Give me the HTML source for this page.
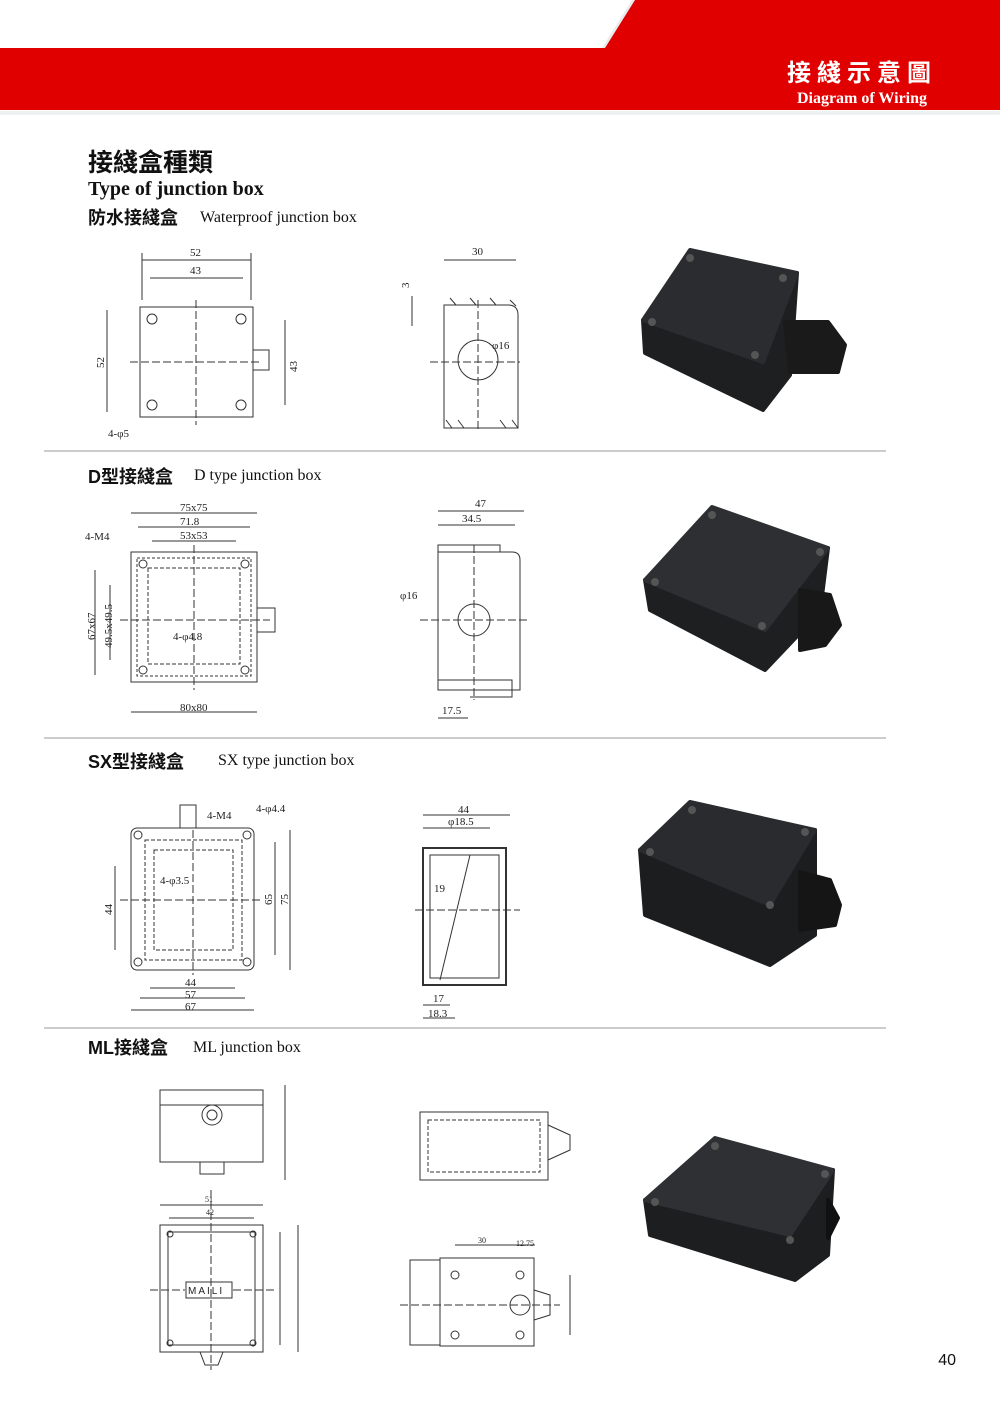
<!DOCTYPE html>
<html><head><meta charset="utf-8"><style>
html,body{margin:0;padding:0;background:#fff}
svg{display:block}
.t{font-family:"Liberation Serif","Noto Serif CJK SC",serif}
.s{font-family:"Liberation Sans","Noto Sans CJK SC",sans-serif}
</style></head><body>
<svg width="1000" height="1414" viewBox="0 0 1000 1414" xmlns="http://www.w3.org/2000/svg">
<rect width="1000" height="1414" fill="#fff"/>
<polygon points="602,48 632,0 640,0 610,48" fill="#e6ecee"/>
<polygon points="635,0 1000,0 1000,110 0,110 0,48 605,48" fill="#e10000"/>
<rect x="0" y="111" width="1000" height="4" fill="#eef1f2"/>
<text x="862" y="81" text-anchor="middle" class="s" font-size="24" font-weight="bold" fill="#fff" letter-spacing="6">接綫示意圖</text>
<text x="862" y="103" text-anchor="middle" class="t" font-size="16" font-weight="bold" fill="#fff">Diagram of Wiring</text>

<text x="88" y="171" class="s" font-size="25" font-weight="bold" fill="#111">接綫盒種類</text>
<text x="88" y="195" class="t" font-size="20" font-weight="bold" fill="#111">Type of junction box</text>
<text x="88" y="224" class="s" font-size="18" font-weight="bold" fill="#111">防水接綫盒</text>
<text x="200" y="222" class="t" font-size="16" fill="#111">Waterproof junction box</text>
<text x="88" y="483" class="s" font-size="18" font-weight="bold" fill="#111">D型接綫盒</text>
<text x="194" y="480" class="t" font-size="16" fill="#111">D type junction box</text>
<text x="88" y="768" class="s" font-size="18" font-weight="bold" fill="#111">SX型接綫盒</text>
<text x="218" y="765" class="t" font-size="16" fill="#111">SX type junction box</text>
<text x="88" y="1054" class="s" font-size="18" font-weight="bold" fill="#111">ML接綫盒</text>
<text x="193" y="1052" class="t" font-size="16" fill="#111">ML junction box</text>

<g stroke="#999" stroke-width="1"><line x1="44" y1="451" x2="886" y2="451"/><line x1="44" y1="738" x2="886" y2="738"/><line x1="44" y1="1028" x2="886" y2="1028"/></g>

<g fill="none" stroke="#333" stroke-width="1">
<rect x="140" y="307" width="113" height="110"/>
<circle cx="152" cy="319" r="5"/><circle cx="241" cy="319" r="5"/><circle cx="152" cy="405" r="5"/><circle cx="241" cy="405" r="5"/>
<line x1="142" y1="253" x2="142" y2="300"/><line x1="251" y1="253" x2="251" y2="300"/><line x1="142" y1="260" x2="251" y2="260"/>
<line x1="150" y1="278" x2="243" y2="278"/>
<line x1="107" y1="310" x2="107" y2="412"/><line x1="285" y1="320" x2="285" y2="405"/>
<rect x="253" y="350" width="16" height="20"/>
<line x1="130" y1="362" x2="260" y2="362" stroke-dasharray="8,3"/>
<line x1="196" y1="300" x2="196" y2="425" stroke-dasharray="8,3"/>
<path d="M444 305 H508 Q518 305 518 315 V428 H444 Z"/>
<path d="M446 420 L452 428 M458 420 L464 428 M500 420 L506 428 M512 420 L518 428 M450 298 L456 305 M470 298 L476 305 M490 298 L496 305 M510 300 L516 306"/>
<circle cx="478" cy="360" r="20"/><line x1="430" y1="362" x2="520" y2="362" stroke-dasharray="8,3"/><line x1="478" y1="300" x2="478" y2="430" stroke-dasharray="8,3"/>
<line x1="444" y1="260" x2="516" y2="260"/><line x1="412" y1="296" x2="412" y2="326"/>
<rect x="131" y="552" width="126" height="130"/><rect x="137" y="558" width="114" height="118" stroke-dasharray="3,2"/>
<rect x="148" y="568" width="92" height="96" stroke-dasharray="4,2"/>
<circle cx="143" cy="564" r="4"/><circle cx="245" cy="564" r="4"/><circle cx="143" cy="670" r="4"/><circle cx="245" cy="670" r="4"/>
<line x1="131" y1="513" x2="257" y2="513"/><line x1="138" y1="527" x2="250" y2="527"/><line x1="152" y1="541" x2="236" y2="541"/>
<line x1="131" y1="712" x2="257" y2="712"/><line x1="95" y1="570" x2="95" y2="675"/><line x1="110" y1="585" x2="110" y2="660"/>
<rect x="257" y="608" width="18" height="24"/><line x1="120" y1="620" x2="270" y2="620" stroke-dasharray="8,3"/><line x1="194" y1="545" x2="194" y2="690" stroke-dasharray="8,3"/>
<path d="M438 552 H512 Q520 552 520 560 V690 H438 Z"/><path d="M438 552 V545 H500 V552 M438 680 H512 V697 H470"/>
<circle cx="474" cy="620" r="16"/><line x1="420" y1="620" x2="530" y2="620" stroke-dasharray="8,3"/><line x1="474" y1="545" x2="474" y2="700" stroke-dasharray="8,3"/>
<line x1="438" y1="511" x2="524" y2="511"/><line x1="438" y1="525" x2="515" y2="525"/><line x1="438" y1="718" x2="468" y2="718"/>
<rect x="131" y="828" width="123" height="142" rx="6"/><rect x="145" y="840" width="97" height="120" stroke-dasharray="4,2"/>
<rect x="154" y="850" width="79" height="100" stroke-dasharray="4,2"/>
<circle cx="138" cy="835" r="4"/><circle cx="247" cy="835" r="4"/><circle cx="138" cy="962" r="4"/><circle cx="247" cy="962" r="4"/>
<rect x="180" y="805" width="16" height="23"/>
<line x1="115" y1="866" x2="115" y2="950"/><line x1="275" y1="842" x2="275" y2="955"/><line x1="290" y1="830" x2="290" y2="970"/>
<line x1="150" y1="988" x2="235" y2="988"/><line x1="140" y1="998" x2="245" y2="998"/><line x1="131" y1="1010" x2="254" y2="1010"/>
<line x1="120" y1="900" x2="262" y2="900" stroke-dasharray="8,3"/><line x1="193" y1="830" x2="193" y2="975" stroke-dasharray="8,3"/>
<rect x="423" y="848" width="83" height="137" stroke-width="2"/><rect x="430" y="855" width="69" height="123"/>
<path d="M470 855 L440 980"/><line x1="423" y1="815" x2="510" y2="815"/><line x1="423" y1="828" x2="490" y2="828"/>
<line x1="423" y1="1018" x2="455" y2="1018"/><line x1="423" y1="1005" x2="450" y2="1005"/>
<line x1="415" y1="910" x2="520" y2="910" stroke-dasharray="8,3"/>
<rect x="160" y="1090" width="103" height="72"/><line x1="160" y1="1105" x2="263" y2="1105"/><circle cx="212" cy="1115" r="10"/><circle cx="212" cy="1115" r="5"/>
<rect x="200" y="1162" width="24" height="12"/><line x1="285" y1="1085" x2="285" y2="1180"/>
<rect x="160" y="1225" width="103" height="127"/><rect x="168" y="1232" width="87" height="113"/>
<circle cx="170" cy="1234" r="3"/><circle cx="253" cy="1234" r="3"/><circle cx="170" cy="1343" r="3"/><circle cx="253" cy="1343" r="3"/>
<rect x="186" y="1282" width="46" height="16"/><path d="M200 1352 L205 1365 H218 L223 1352"/>
<line x1="160" y1="1205" x2="263" y2="1205"/><line x1="169" y1="1218" x2="254" y2="1218"/>
<line x1="280" y1="1232" x2="280" y2="1345"/><line x1="298" y1="1225" x2="298" y2="1352"/>
<line x1="150" y1="1290" x2="185" y2="1290" stroke-dasharray="8,3"/><line x1="233" y1="1290" x2="275" y2="1290" stroke-dasharray="8,3"/><line x1="211" y1="1190" x2="211" y2="1370" stroke-dasharray="8,3"/>
<path d="M420 1112 H548 V1180 H420 Z"/><path d="M548 1125 L570 1135 V1150 L548 1160"/><rect x="428" y="1120" width="112" height="52" stroke-dasharray="4,2"/>
<rect x="440" y="1258" width="94" height="88"/><rect x="410" y="1260" width="30" height="85"/><path d="M534 1290 L550 1295 V1315 L534 1320"/>
<circle cx="520" cy="1305" r="10"/><circle cx="455" cy="1275" r="4"/><circle cx="520" cy="1275" r="4"/><circle cx="455" cy="1335" r="4"/><circle cx="520" cy="1335" r="4"/>
<line x1="455" y1="1245" x2="535" y2="1245"/><line x1="570" y1="1275" x2="570" y2="1335"/>
<line x1="400" y1="1305" x2="560" y2="1305" stroke-dasharray="8,3"/>
</g>

<g class="t" font-size="11" fill="#222">
<text x="190" y="256">52</text><text x="190" y="274">43</text><text x="108" y="437">4-φ5</text>
<text x="472" y="255">30</text><text x="492" y="349">φ16</text>
<text x="180" y="511">75x75</text><text x="180" y="525">71.8</text><text x="180" y="539">53x53</text><text x="85" y="540">4-M4</text>
<text x="173" y="640">4-φ4.8</text><text x="180" y="711">80x80</text>
<text x="475" y="507">47</text><text x="462" y="522">34.5</text><text x="400" y="599">φ16</text><text x="442" y="714">17.5</text>
<text x="207" y="819">4-M4</text><text x="256" y="812">4-φ4.4</text><text x="160" y="884">4-φ3.5</text>
<text x="185" y="986">44</text><text x="185" y="998">57</text><text x="185" y="1010">67</text>
<text x="458" y="813">44</text><text x="448" y="825">φ18.5</text><text x="434" y="892">19</text><text x="433" y="1002">17</text><text x="428" y="1017">18.3</text>
<text x="188" y="1294" font-size="10" class="s" letter-spacing="2">MAILI</text>
<text x="205" y="1202" font-size="8">51</text><text x="206" y="1215" font-size="8">42</text>
<text x="478" y="1243" font-size="8">30</text><text x="516" y="1246" font-size="8">12.75</text>
</g>
<g class="t" font-size="11" fill="#222">
<text transform="translate(104,368) rotate(-90)">52</text><text transform="translate(297,372) rotate(-90)">43</text>
<text transform="translate(409,288) rotate(-90)">3</text>
<text transform="translate(95,640) rotate(-90)">67x67</text><text transform="translate(112,648) rotate(-90)">49.5x49.5</text>
<text transform="translate(112,915) rotate(-90)">44</text><text transform="translate(272,905) rotate(-90)">65</text><text transform="translate(288,905) rotate(-90)">75</text>
</g>

<g stroke-linejoin="round" stroke-width="4">
<!-- photo 1 -->
<path d="M643 320 L645 353 L763 410 L790 375 L797 273 Z" fill="#1e1f21" stroke="#1e1f21"/>
<path d="M643 320 L690 250 L797 273 L763 362 Z" fill="#2b2c2f" stroke="#2b2c2f"/>
<path d="M785 322 L828 322 L845 345 L838 372 L790 372 Z" fill="#1a1a1a" stroke="#1a1a1a"/>
<!-- photo 2 -->
<path d="M645 580 L650 610 L765 670 L820 612 L828 548 Z" fill="#1e1f21" stroke="#1e1f21"/>
<path d="M645 580 L712 507 L828 548 L765 630 Z" fill="#2d2f32" stroke="#2d2f32"/>
<path d="M800 590 L830 595 L840 625 L825 645 L800 650 Z" fill="#181818" stroke="#181818"/>
<!-- photo 3 -->
<path d="M640 850 L645 915 L770 965 L815 935 L815 830 Z" fill="#1c1d1f" stroke="#1c1d1f"/>
<path d="M640 850 L690 802 L815 830 L770 905 Z" fill="#2a2b2e" stroke="#2a2b2e"/>
<path d="M800 872 L830 880 L840 905 L835 925 L800 930 Z" fill="#151515" stroke="#151515"/>
<!-- photo 4 -->
<path d="M645 1200 L650 1235 L795 1280 L828 1255 L833 1170 Z" fill="#1d1e20" stroke="#1d1e20"/>
<path d="M645 1200 L715 1138 L833 1170 L790 1235 Z" fill="#2e3033" stroke="#2e3033"/>
<path d="M828 1200 L838 1218 L828 1238 Z" fill="#111" stroke="#111"/>
</g>
<g fill="#555"><circle cx="690" cy="258" r="4"/><circle cx="783" cy="278" r="4"/><circle cx="652" cy="322" r="4"/><circle cx="755" cy="355" r="4"/>
<circle cx="712" cy="515" r="4"/><circle cx="820" cy="552" r="4"/><circle cx="655" cy="582" r="4"/><circle cx="762" cy="626" r="4"/>
<circle cx="692" cy="810" r="4"/><circle cx="805" cy="832" r="4"/><circle cx="650" cy="852" r="4"/><circle cx="770" cy="905" r="4"/>
<circle cx="715" cy="1146" r="4"/><circle cx="825" cy="1174" r="4"/><circle cx="655" cy="1202" r="4"/><circle cx="790" cy="1240" r="4"/></g>
<text x="956" y="1365" text-anchor="end" class="s" font-size="16" fill="#111">40</text>
</svg>
</body></html>
